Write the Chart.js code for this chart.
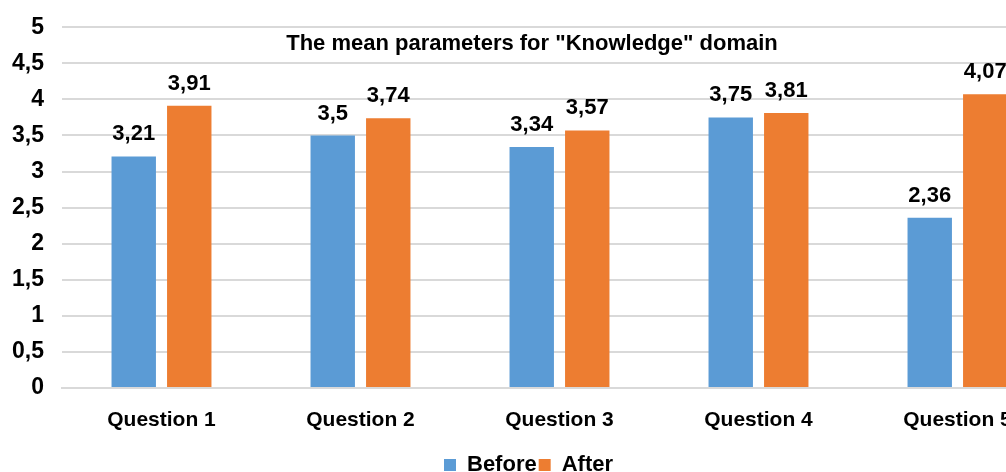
<title>Knowledge domain - mean parameters</title>
<script src="https://cdn.jsdelivr.net/npm/chart.js@4/dist/chart.umd.min.js"></script>

<div id="wrap"><canvas id="knowChart" width="1057" height="472"></canvas></div>

<script>
const categories = ["Question 1", "Question 2", "Question 3", "Question 4", "Question 5"];
const before = [3.21, 3.5, 3.34, 3.75, 2.36];
const after = [3.91, 3.74, 3.57, 3.81, 4.07];
const chartTitle = 'The mean parameters for "Knowledge" domain';

const FONT = "'Liberation Sans', Arial, sans-serif";
const comma = v => String(v).replace(".", ",");

// value labels above each bar
const valueLabels = {
  id: "valueLabels",
  afterDatasetsDraw(chart) {
    const ctx = chart.ctx;
    ctx.save();
    ctx.font = "bold 22px " + FONT;
    ctx.fillStyle = "#000";
    ctx.textAlign = "center";
    ctx.textBaseline = "bottom";
    chart.data.datasets.forEach((ds, i) => {
      chart.getDatasetMeta(i).data.forEach((bar, j) => {
        ctx.fillText(comma(ds.data[j]), bar.x, bar.y - 11);
      });
    });
    ctx.restore();
  }
};

// title sits inside the plot area
const innerTitle = {
  id: "innerTitle",
  afterDraw(chart) {
    const ctx = chart.ctx;
    ctx.save();
    ctx.font = "bold 22px " + FONT;
    ctx.fillStyle = "#000";
    ctx.textAlign = "center";
    ctx.textBaseline = "middle";
    ctx.fillText(chartTitle, 532, 44);
    ctx.restore();
  }
};

const ctx = document.getElementById("knowChart").getContext("2d");

const chart = new Chart(ctx, {
  type: "bar",
  data: {
    labels: categories,
    datasets: [
      { label: "Before", data: before, backgroundColor: "#5b9bd5" },
      { label: "After", data: after, backgroundColor: "#ed7d31" }
    ]
  },
  options: {
    responsive: false,
    animation: false,
    categoryPercentage: 0.558,
    barPercentage: 0.8,
    layout: { padding: { top: 2, left: 0, right: 0, bottom: -14 } },
    plugins: {
      legend: {
        position: "bottom",
        labels: {
          boxWidth: 12,
          boxHeight: 12,
          padding: 2,
          color: "#000",
          font: { family: FONT, size: 22, weight: "bold" }
        }
      },
      tooltip: { enabled: false }
    },
    scales: {
      y: {
        min: 0,
        max: 5,
        ticks: {
          stepSize: 0.5,
          color: "#000",
          padding: 18,
          font: { family: FONT, size: 23, weight: "bold", lineHeight: 0.8 },
          callback: v => comma(v)
        },
        grid: { color: "#d9d9d9", lineWidth: 2, drawTicks: false },
        border: { display: false },
        afterFit: s => { s.width = 62; }
      },
      x: {
        ticks: {
          color: "#000",
          padding: 22,
          font: { family: FONT, size: 21, weight: "bold", lineHeight: 0.95 }
        },
        grid: { display: false, drawTicks: false },
        border: { color: "#d9d9d9", width: 2 }
      }
    }
  },
  plugins: [valueLabels, innerTitle]
});
</script>

<style>
  body {
    margin: 0;
    overflow: hidden;
    background: #fff;
  }
  #wrap {
    width: 1006px;
    height: 472px;
    overflow: hidden;
  }
</style>
